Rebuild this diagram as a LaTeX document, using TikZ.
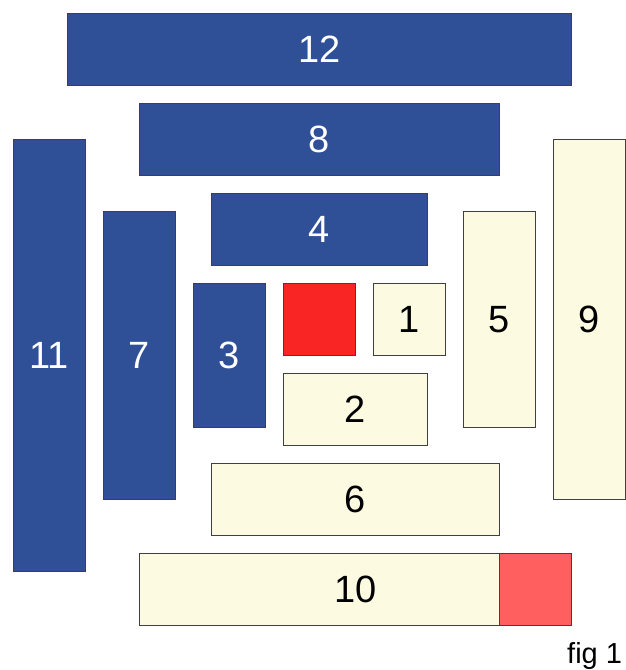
\documentclass[tikz,border=0pt]{standalone}
\usepackage{fontspec}
\setmainfont{Liberation Sans}
\definecolor{dblue}{RGB}{47,80,150}
\definecolor{cream}{RGB}{253,250,226}
\definecolor{bred}{RGB}{249,36,36}
\definecolor{lred}{RGB}{255,95,95}
\begin{document}
\begin{tikzpicture}[x=1pt,y=-1pt,
  box/.style={draw=black!75, line width=0.8pt, inner sep=0pt, anchor=north west,
    font=\fontsize{38}{38}\selectfont},
  bluebox/.style={box, fill=dblue, text=white},
  creambox/.style={box, fill=cream, text=black},
  redbox/.style={box, fill=bred},
  lredbox/.style={box, fill=lred}]
\useasboundingbox (0,0) rectangle (626,670);
\node[bluebox, minimum width=504pt, minimum height=72pt] (n12) at (67,13) {12};
\node[bluebox, minimum width=360pt, minimum height=72pt] (n8) at (139,103) {8};
\node[bluebox, minimum width=216pt, minimum height=72pt] (n4) at (211,193) {4};
\node[bluebox, minimum width=72pt, minimum height=432pt] (n11) at (13,139) {11};
\node[bluebox, minimum width=72pt, minimum height=288pt] (n7) at (103,211) {7};
\node[bluebox, minimum width=72pt, minimum height=144pt] (n3) at (193,283) {3};
\node[redbox, minimum width=72pt, minimum height=72pt] (c) at (283,283) {};
\node[creambox, minimum width=72pt, minimum height=72pt] (n1) at (373,283) {1};
\node[creambox, minimum width=144pt, minimum height=72pt] (n2) at (283,373) {2};
\node[creambox, minimum width=72pt, minimum height=216pt] (n5) at (463,211) {5};
\node[creambox, minimum width=72pt, minimum height=360pt] (n9) at (553,139) {9};
\node[creambox, minimum width=288pt, minimum height=72pt] (n6) at (211,463) {6};
\node[creambox, minimum width=432pt, minimum height=72pt] (n10) at (139,553) {10};
\node[lredbox, minimum width=72pt, minimum height=72pt] (r10) at (499,553) {};
\node[anchor=base west, inner sep=0pt, font=\fontsize{29}{29}\selectfont] (fig) at (567,663) {fig 1};
\end{tikzpicture}
\end{document}
